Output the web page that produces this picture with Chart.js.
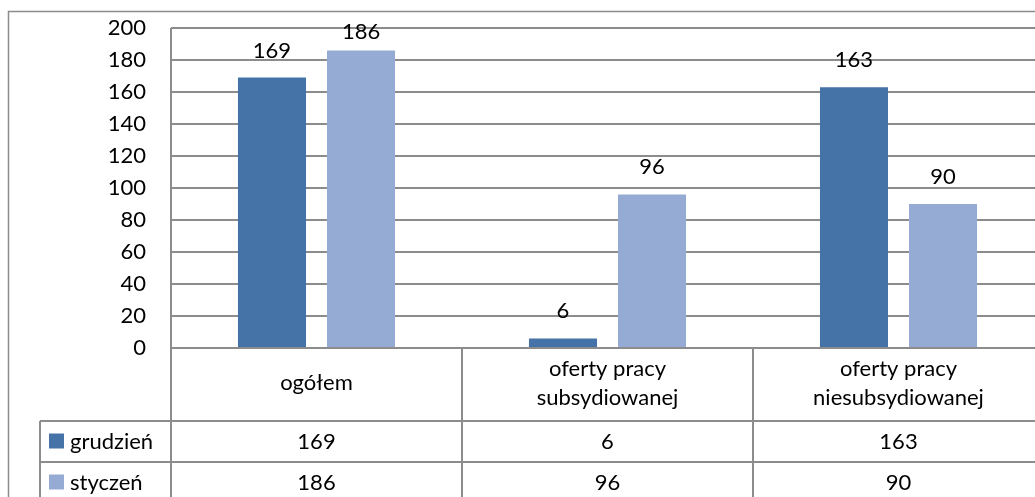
<!DOCTYPE html>
<html>
<head>
<meta charset="utf-8">
<script src="https://cdn.jsdelivr.net/npm/chart.js@4/dist/chart.umd.min.js"></script>
<style>
  html, body { margin: 0; padding: 0; overflow: hidden; background: #fff; }
  #wrap { position: absolute; left: 0; top: 0; width: 1060px; height: 520px; }
</style>
</head>
<body>
<div id="wrap"><canvas id="wykres" width="1060" height="520"></canvas></div>
<script>
// Dane wykresu
const kategorie = ['ogółem', ['oferty pracy', 'subsydiowanej'], ['oferty pracy', 'niesubsydiowanej']];
const nazwySerii = ['grudzień', 'styczeń'];
const grudzien = [169, 6, 163];
const styczen = [186, 96, 90];
const ticksY = [0, 20, 40, 60, 80, 100, 120, 140, 160, 180, 200];

const kolory = ['#4572a7', '#95abd3'];
const szary = '#8c8c8c';
const czcionka = 'Lato, "Open Sans", sans-serif';

// Etykiety nad słupkami
const etykiety = {
    id: 'etykiety',
    afterDatasetsDraw(chart) {
        const ctx = chart.ctx;
        ctx.save();
        ctx.font = '22px ' + czcionka;
        ctx.fillStyle = '#000';
        ctx.textAlign = 'center';
        ctx.textBaseline = 'middle';
        chart.data.datasets.forEach(function(ds, i) {
            chart.getDatasetMeta(i).data.forEach(function(bar, j) {
                const y = Math.max(bar.y - 27, chart.chartArea.top + 4);
                ctx.fillText(String(ds.data[j]), bar.x, y);
            });
        });
        ctx.restore();
    }
};

// Ramka i tabela danych pod wykresem
const tabela = {
    id: 'tabela',
    beforeDraw(chart) {
        const ctx = chart.ctx;
        ctx.save();
        ctx.strokeStyle = szary;
        ctx.lineWidth = 1.5;
        ctx.strokeRect(8.5, 11.5, chart.width + 20, chart.height + 20);
        ctx.restore();
    },
    afterDraw(chart) {
        const ctx = chart.ctx;
        const area = chart.chartArea;
        const x = chart.scales.x;
        const szer = (area.right - area.left) / kategorie.length;
        const gora = area.bottom;
        const wiersz1 = x.bottom;
        const wysWiersza = 41;
        const lewaLegendy = 40;

        ctx.save();
        ctx.strokeStyle = szary;
        ctx.lineWidth = 2;
        ctx.beginPath();
        // oś pionowa przez całą wysokość
        ctx.moveTo(area.left, area.top);
        ctx.lineTo(area.left, chart.height);
        // oś pozioma
        ctx.moveTo(area.left, gora);
        ctx.lineTo(chart.width, gora);
        // linie wierszy
        for (let r = 0; r < 2; r++) {
            const y = wiersz1 + r * wysWiersza;
            ctx.moveTo(lewaLegendy, y);
            ctx.lineTo(chart.width, y);
        }
        ctx.moveTo(lewaLegendy, wiersz1);
        ctx.lineTo(lewaLegendy, chart.height);
        // podziały kolumn
        for (let k = 1; k < kategorie.length; k++) {
            const xx = area.left + k * szer;
            ctx.moveTo(xx, gora);
            ctx.lineTo(xx, chart.height);
        }
        ctx.stroke();

        ctx.font = '22px ' + czcionka;
        ctx.fillStyle = '#000';
        ctx.textBaseline = 'middle';
        const serie = [grudzien, styczen];
        serie.forEach(function(dane, r) {
            const yc = wiersz1 + r * wysWiersza + wysWiersza / 2;
            ctx.fillStyle = kolory[r];
            ctx.fillRect(49, yc - 8, 15, 15);
            ctx.fillStyle = '#000';
            ctx.textAlign = 'left';
            ctx.fillText(nazwySerii[r], 70, yc);
            ctx.textAlign = 'center';
            dane.forEach(function(v, j) {
                ctx.fillText(String(v), x.getPixelForValue(j), yc);
            });
        });
        ctx.restore();
    }
};

const ctx = document.getElementById('wykres').getContext('2d');
new Chart(ctx, {
    type: 'bar',
    data: {
        labels: kategorie,
        datasets: [
            { label: nazwySerii[0], data: grudzien, backgroundColor: kolory[0] },
            { label: nazwySerii[1], data: styczen, backgroundColor: kolory[1] }
        ]
    },
    options: {
        responsive: false,
        animation: false,
        devicePixelRatio: 1,
        categoryPercentage: 0.612,
        barPercentage: 0.764,
        layout: { padding: { left: 0, top: 28, right: 16, bottom: 99 } },
        plugins: {
            legend: { display: false },
            tooltip: { enabled: false }
        },
        scales: {
            x: {
                grid: { display: false, drawTicks: false },
                border: { display: false },
                ticks: {
                    color: '#000',
                    font: { family: czcionka, size: 22, lineHeight: 1.3 },
                    padding: 21,
                    crossAlign: 'center',
                    maxRotation: 0
                },
                afterFit: function(scale) { scale.height = 73; }
            },
            y: {
                min: 0,
                max: 200,
                afterBuildTicks: function(scale) {
                    scale.ticks = ticksY.map(function(v) { return { value: v }; });
                },
                // niewidoczne kreski podziałki odsuwają etykiety od osi
                grid: { color: szary, lineWidth: 2, drawTicks: true, tickLength: 25, tickColor: 'rgba(0,0,0,0)' },
                border: { display: false },
                ticks: {
                    color: '#000',
                    font: { family: czcionka, size: 22 },
                    padding: 0
                },
                afterFit: function(scale) { scale.width = 171; }
            }
        }
    },
    plugins: [etykiety, tabela]
});
</script>
</body>
</html>
